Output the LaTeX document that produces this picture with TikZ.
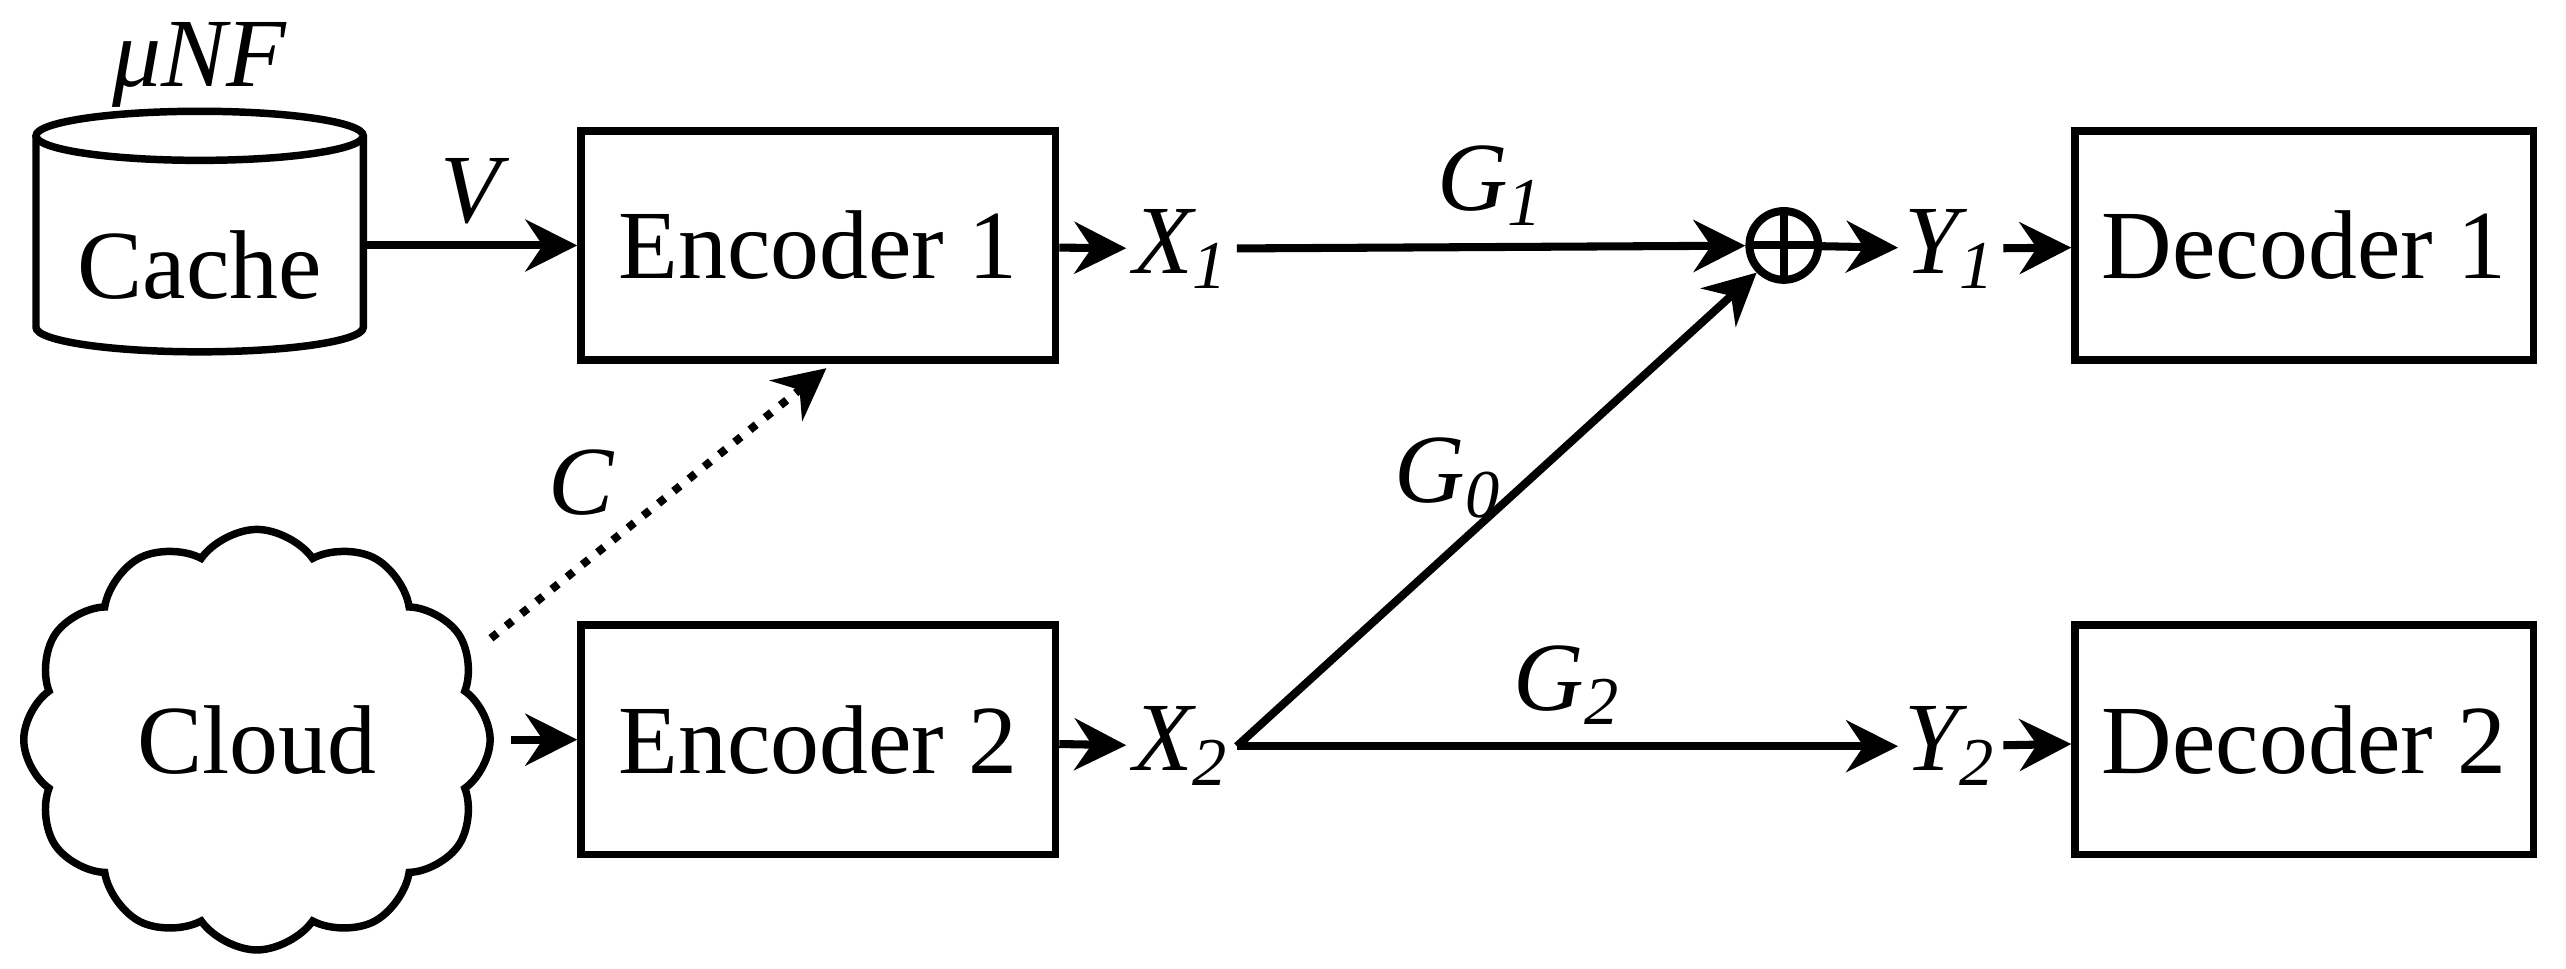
\documentclass[tikz,border=0pt]{standalone}
\usepackage{fontspec}
\setmainfont{Liberation Serif}
\usetikzlibrary{arrows.meta,shapes.symbols}
\tikzset{
  box/.style={draw,line width=1.3pt,minimum width=2.9cm,minimum height=1.4cm},
  var/.style={inner sep=1pt,font=\fontsize{17}{20}\selectfont\itshape},
  arr/.style={line width=1.4pt,-{Stealth[length=9pt,width=9pt,inset=3pt]}},
}
\begin{document}
\begin{tikzpicture}[font=\fontsize{17}{20}\selectfont]
\useasboundingbox (0,0) rectangle (15.68,5.92);

% cache drum
\draw[line width=1.3pt] (1.22,5.09) ellipse (1.0 and 0.15);
\draw[line width=1.3pt] (0.22,5.09) -- (0.22,3.92) arc (180:360:1.0 and 0.15) -- (2.22,5.09);
\node[minimum width=2cm,inner sep=0pt] (cache) at (1.22,4.30) {Cache};
\node[var] at (1.22,5.52) {μNF};
\node[draw,line width=1.3pt,cloud,cloud puffs=12,cloud puff arc=110,aspect=1.1,minimum width=2.85cm,minimum height=2.57cm] (cloud) at (1.57,1.40) {Cloud};

\node[box] (enc1) at (5.0,4.42) {Encoder 1};
\node[box] (enc2) at (5.0,1.40) {Encoder 2};
\node[box,minimum width=2.8cm] (dec1) at (14.08,4.42) {Decoder 1};
\node[box,minimum width=2.8cm] (dec2) at (14.08,1.40) {Decoder 2};

\node[var] (x1) at (7.22,4.40) {X\textsubscript{1}};
\node[var] (x2) at (7.22,1.36) {X\textsubscript{2}};
\node[var] (y1) at (11.92,4.40) {Y\textsubscript{1}};
\node[var] (y2) at (11.92,1.36) {Y\textsubscript{2}};
\node[draw,circle,line width=1.4pt,minimum size=0.42cm,inner sep=0pt,
  path picture={\draw[line width=1.4pt] (path picture bounding box.north) -- (path picture bounding box.south)
  (path picture bounding box.west) -- (path picture bounding box.east);}] (sum) at (10.9,4.42) {};

\coordinate (cl) at (3.0,2.02);
\coordinate (ct) at (5.05,3.67);

\draw[arr] (cache.east |- enc1.west) -- (enc1.west) node[midway,above=2pt,var] {V};
\draw[arr] (enc1) -- (x1);
\draw[arr] (x1) -- (sum) node[midway,above=2pt,var] {G\textsubscript{1}};
\draw[arr] (sum) -- (y1);
\draw[arr] (y1) -- (dec1);
\draw[arr] (3.12,1.40) -- (enc2.west);
\draw[arr] (enc2) -- (x2);
\draw[arr] (x2.east) -- (sum.-135);
\node[var] at (8.85,3.0) {G\textsubscript{0}};
\draw[arr] (x2.east) -- (y2.west) node[midway,above=2pt,var] {G\textsubscript{2}};
\draw[arr] (y2) -- (dec2);
\draw[arr,dotted] (cl) -- (ct);
\node[var] at (3.55,2.97) {C};
\end{tikzpicture}
\end{document}
